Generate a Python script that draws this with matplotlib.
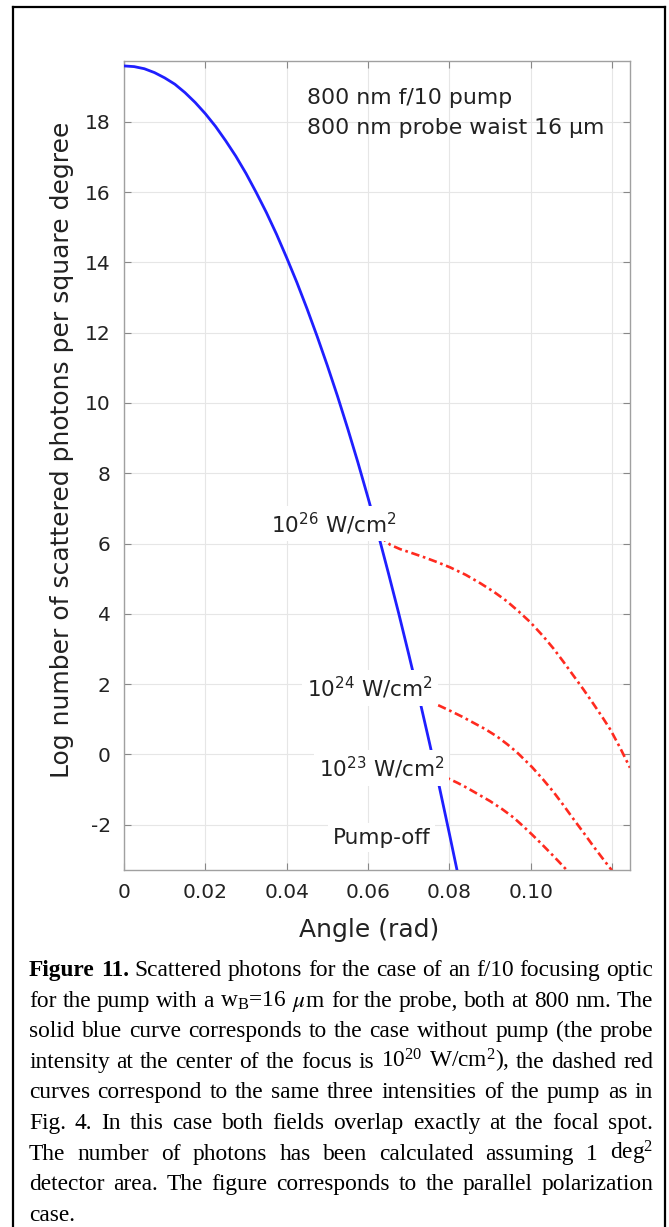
import matplotlib
matplotlib.use('Agg')
import matplotlib.pyplot as plt
from matplotlib.lines import Line2D

plt.rcParams['font.family'] = 'DejaVu Sans'
plt.rcParams['mathtext.fontset'] = 'stix'
plt.rcParams['axes.unicode_minus'] = False

# pump-off curve (solid blue)
angle_off = [0, 0.0025, 0.005, 0.0075, 0.010, 0.0125, 0.015, 0.0175, 0.020, 0.0225,
             0.025, 0.0275, 0.030, 0.0325, 0.035, 0.0375, 0.040, 0.0425, 0.045, 0.0475,
             0.050, 0.0525, 0.055, 0.0575, 0.060, 0.0625, 0.065, 0.0675, 0.070, 0.0725,
             0.075, 0.0775, 0.080, 0.0825]
logn_off = [19.59, 19.57, 19.51, 19.40, 19.25, 19.07, 18.83, 18.55, 18.23, 17.87,
            17.46, 17.02, 16.53, 15.99, 15.42, 14.80, 14.13, 13.43, 12.68, 11.89,
            11.06, 10.19, 9.27, 8.31, 7.30, 6.26, 5.16, 4.03, 2.85, 1.64,
            0.38, -0.91, -2.26, -3.64]

# pump on, 1e26 W/cm2
angle_26 = [0.0626, 0.0640, 0.0655, 0.0679, 0.0710, 0.0740, 0.0770, 0.0802, 0.0840,
            0.0876, 0.0910, 0.0941, 0.0970, 0.0999, 0.1030, 0.1056, 0.1080, 0.1105,
            0.1130, 0.1155, 0.1176, 0.1196, 0.1220, 0.1244]
logn_26 = [6.20, 6.10, 5.96, 5.84, 5.72, 5.60, 5.47, 5.32, 5.11,
           4.87, 4.62, 4.36, 4.07, 3.76, 3.37, 3.01, 2.64, 2.24,
           1.84, 1.42, 1.06, 0.70, 0.18, -0.38]

# pump on, 1e24 W/cm2
angle_24 = [0.0728, 0.0765, 0.0802, 0.0830, 0.0859, 0.0888, 0.0917, 0.0942, 0.0966,
            0.1003, 0.1030, 0.1056, 0.1080, 0.1105, 0.1130, 0.1155, 0.1176, 0.1196, 0.1205]
logn_24 = [1.50, 1.44, 1.24, 1.08, 0.90, 0.72, 0.51, 0.29, 0.06,
           -0.36, -0.71, -1.07, -1.44, -1.84, -2.23, -2.63, -2.95, -3.25, -3.40]

# pump on, 1e23 W/cm2
angle_23 = [0.0768, 0.0798, 0.0820, 0.0843, 0.0870, 0.0900, 0.0930, 0.0958, 0.0980,
            0.1003, 0.1025, 0.1048, 0.1068, 0.1085, 0.1095]
logn_23 = [-0.54, -0.69, -0.81, -0.95, -1.13, -1.33, -1.56, -1.80, -2.03,
           -2.28, -2.53, -2.80, -3.04, -3.25, -3.38]

xticks = [0, 0.02, 0.04, 0.06, 0.08, 0.10, 0.12]
xtick_labels = ['0', '0.02', '0.04', '0.06', '0.08', '0.10', '']
yticks = [-2, 0, 2, 4, 6, 8, 10, 12, 14, 16, 18]

caption = [
    'Figure 11. Scattered photons for the case of an f/10 focusing optic',
    r'for the pump with a $\mathregular{w_B}$=16 $\mu$m for the probe, both at 800 nm. The',
    'solid blue curve corresponds to the case without pump (the probe',
    r'intensity at the center of the focus is $\mathregular{10^{20}}$ W/cm$\mathregular{^2}$), the dashed red',
    'curves correspond to the same three intensities of the pump as in',
    'Fig. 4. In this case both fields overlap exactly at the focal spot.',
    r'The number of photons has been calculated assuming 1 deg$\mathregular{^2}$',
    'detector area. The figure corresponds to the parallel polarization',
    'case.',
]

W, H = 669, 1227
fig = plt.figure(figsize=(W / 100, H / 100), dpi=100)
ax = fig.add_axes([124 / W, 1 - 870 / H, (630 - 124) / W, (870 - 61) / H])

red_ls = (0, (3.2, 1.4, 1.0, 1.4))
ax.plot(angle_26, logn_26, color='#ff2a1f', lw=1.9, ls=red_ls, zorder=2)
ax.plot(angle_24, logn_24, color='#ff2a1f', lw=1.9, ls=red_ls, zorder=2)
ax.plot(angle_23, logn_23, color='#ff2a1f', lw=1.9, ls=red_ls, zorder=2)
ax.plot(angle_off, logn_off, color='#1f1fff', lw=2.0, zorder=3)

ax.set_xlim(0, 0.1244)
ax.set_ylim(-3.29, 19.73)
ax.set_xticks(xticks)
ax.set_xticklabels(xtick_labels)
ax.set_yticks(yticks)
ax.grid(True, color='#e6e6e6', lw=0.8)
ax.set_axisbelow(True)
for s in ax.spines.values():
    s.set_color('#a0a0a0')
    s.set_linewidth(1.0)
ax.tick_params(direction='in', length=5, width=0.8, color='#888888',
               top=True, right=True, labelsize=14.5, pad=9.5, labelcolor='#222222')

box = dict(boxstyle='square,pad=0.22', fc='white', ec='none')
lab_kw = dict(ha='center', va='center', fontsize=15.5, color='#222222', bbox=box, zorder=5)
ax.text(0.0515, 6.57, r'$\mathregular{10^{26}}$ W/cm$\mathregular{^2}$', **lab_kw)
ax.text(0.0605, 1.89, r'$\mathregular{10^{24}}$ W/cm$\mathregular{^2}$', **lab_kw)
ax.text(0.0633, -0.38, r'$\mathregular{10^{23}}$ W/cm$\mathregular{^2}$', **lab_kw)
ax.text(0.0633, -2.37, 'Pump-off', **lab_kw)

ax.text(0.045, 18.67, '800 nm f/10 pump', fontsize=15.8, va='center', color='#222222')
ax.text(0.045, 17.83, '800 nm probe waist 16 μm', fontsize=15.8, va='center', color='#222222')

fig.text(62 / W, 1 - 450 / H, 'Log number of scattered photons per square degree',
         rotation=90, ha='center', va='center', fontsize=18, color='#222222')
fig.text(369 / W, 1 - 930 / H, 'Angle (rad)', ha='center', va='center',
         fontsize=18, color='#222222')

# page frame
for xs, ys in [([13, 13], [7, 1240]), ([13, 665], [7, 7]), ([665, 665], [7, 1240])]:
    fig.add_artist(Line2D([x / W for x in xs], [1 - y / H for y in ys],
                          color='black', lw=1.6))

# justified caption, font size chosen so the longest line just fills the width
fig.canvas.draw()
rend = fig.canvas.get_renderer()
left, right = 29, 653
base0, step = 976, 30.6


def make_words(i, line, size):
    out = []
    for j, w in enumerate(line.split(' ')):
        bold = (i == 0 and j < 2)
        out.append(fig.text(0, 0, w, fontsize=size, family='Liberation Serif',
                            weight='bold' if bold else 'normal', va='baseline'))
    return out


ref = 10.0
longest = 0
for i, line in enumerate(caption[:-1]):
    ts = make_words(i, line, ref)
    nat = sum(t.get_window_extent(rend).width for t in ts) + 0.25 * ref * 100 / 72 * (len(ts) - 1)
    longest = max(longest, nat)
    for t in ts:
        t.remove()
cap_size = ref * (right - left) / longest

for i, line in enumerate(caption):
    y = 1 - (base0 + i * step) / H
    texts = make_words(i, line, cap_size)
    widths = [t.get_window_extent(rend).width for t in texts]
    if i < len(caption) - 1 and len(texts) > 1:
        gap = (right - left - sum(widths)) / (len(texts) - 1)
    else:
        gap = 0.25 * cap_size * 100 / 72
    x = left
    for t, wd in zip(texts, widths):
        t.set_position((x / W, y))
        x += wd + gap

fig.savefig('out.png', dpi=100)
